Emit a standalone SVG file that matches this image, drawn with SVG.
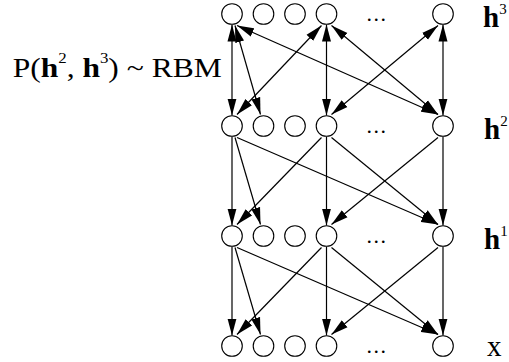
<svg xmlns="http://www.w3.org/2000/svg" width="509" height="362" viewBox="0 0 509 362">
<style>
.n{fill:#fff;stroke:#000;stroke-width:1.1}
.e{stroke:#000;stroke-width:1.2;fill:none}
.d{marker-end:url(#ah)}
.b{marker-start:url(#ah);marker-end:url(#ah)}
.t{font-family:"Liberation Serif","Times New Roman",serif;fill:#000}
.dots{font-family:"Liberation Serif",serif;font-size:22px;letter-spacing:1.5px;text-anchor:middle}
.lab{font-size:29px;font-weight:bold}
.sup{font-size:15px;font-weight:normal}
</style>
<defs>
<marker id="ah" markerUnits="userSpaceOnUse" markerWidth="17" markerHeight="10" refX="17" refY="5" orient="auto-start-reverse" viewBox="0 0 17 10">
<path d="M0,0.5 L17,5 L0,9.5 z" fill="#000"/>
</marker>
</defs>
<rect width="509" height="362" fill="#fff"/>
<g id="connectors">
<line class="e b" x1="232" y1="24.5" x2="232" y2="115.5"/>
<line class="e b" x1="235" y1="25.5" x2="260.5" y2="114.5"/>
<line class="e b" x1="237" y1="25.5" x2="438" y2="114.5"/>
<line class="e b" x1="321.5" y1="25.5" x2="237" y2="114.5"/>
<line class="e b" x1="326.5" y1="24.5" x2="326.5" y2="115.5"/>
<line class="e b" x1="331.5" y1="25.5" x2="438" y2="114.5"/>
<line class="e b" x1="438" y1="25.5" x2="331.5" y2="114.5"/>
<line class="e b" x1="443" y1="24.5" x2="443" y2="115.5"/>

<line class="e d" x1="232" y1="136.5" x2="232" y2="225.5"/>
<line class="e d" x1="235" y1="137.5" x2="260.5" y2="224.5"/>
<line class="e d" x1="237" y1="137.5" x2="438" y2="224.5"/>
<line class="e d" x1="321.5" y1="137.5" x2="237" y2="224.5"/>
<line class="e d" x1="326.5" y1="136.5" x2="326.5" y2="225.5"/>
<line class="e d" x1="331.5" y1="137.5" x2="438" y2="224.5"/>
<line class="e d" x1="438" y1="137.5" x2="331.5" y2="224.5"/>
<line class="e d" x1="443" y1="136.5" x2="443" y2="225.5"/>

<line class="e d" x1="232" y1="246.5" x2="232" y2="335.5"/>
<line class="e d" x1="235" y1="247.5" x2="260.5" y2="334.5"/>
<line class="e d" x1="237" y1="247.5" x2="438" y2="334.5"/>
<line class="e d" x1="321.5" y1="247.5" x2="237" y2="334.5"/>
<line class="e d" x1="326.5" y1="246.5" x2="326.5" y2="335.5"/>
<line class="e d" x1="331.5" y1="247.5" x2="438" y2="334.5"/>
<line class="e d" x1="438" y1="247.5" x2="331.5" y2="334.5"/>
<line class="e d" x1="443" y1="246.5" x2="443" y2="335.5"/>
</g>
<g id="h3">
<g id="h3_1"><circle class="n" cx="232" cy="14" r="10.3"/></g>
<g id="h3_2"><circle class="n" cx="263.5" cy="14" r="10.3"/></g>
<g id="h3_3"><circle class="n" cx="295" cy="14" r="10.3"/></g>
<g id="h3_4"><circle class="n" cx="326.5" cy="14" r="10.3"/></g>
<g id="h3_5"><circle class="n" cx="443" cy="14" r="10.3"/></g>
<text class="t dots" x="377" y="20.5">...</text>
<text class="t lab" x="483" y="26.5">h<tspan class="sup" dy="-13">3</tspan></text>
</g>
<g id="h2">
<g id="h2_1"><circle class="n" cx="232" cy="126" r="10.3"/></g>
<g id="h2_2"><circle class="n" cx="263.5" cy="126" r="10.3"/></g>
<g id="h2_3"><circle class="n" cx="295" cy="126" r="10.3"/></g>
<g id="h2_4"><circle class="n" cx="326.5" cy="126" r="10.3"/></g>
<g id="h2_5"><circle class="n" cx="443" cy="126" r="10.3"/></g>
<text class="t dots" x="377" y="132.5">...</text>
<text class="t lab" x="484" y="138.5">h<tspan class="sup" dy="-13">2</tspan></text>
</g>
<g id="h1">
<g id="h1_1"><circle class="n" cx="232" cy="236" r="10.3"/></g>
<g id="h1_2"><circle class="n" cx="263.5" cy="236" r="10.3"/></g>
<g id="h1_3"><circle class="n" cx="295" cy="236" r="10.3"/></g>
<g id="h1_4"><circle class="n" cx="326.5" cy="236" r="10.3"/></g>
<g id="h1_5"><circle class="n" cx="443" cy="236" r="10.3"/></g>
<text class="t dots" x="377" y="242.5">...</text>
<text class="t lab" x="484" y="248.5">h<tspan class="sup" dy="-13">1</tspan></text>
</g>
<g id="x">
<g id="x_1"><circle class="n" cx="232" cy="346" r="10.3"/></g>
<g id="x_2"><circle class="n" cx="263.5" cy="346" r="10.3"/></g>
<g id="x_3"><circle class="n" cx="295" cy="346" r="10.3"/></g>
<g id="x_4"><circle class="n" cx="326.5" cy="346" r="10.3"/></g>
<g id="x_5"><circle class="n" cx="443" cy="346" r="10.3"/></g>
<text class="t dots" x="377" y="352.5">...</text>
<text class="t" x="487" y="355.5" font-size="29">x</text>
</g>
<g id="rbm_label">
<text class="t" x="12.7" y="76.7" font-size="28" textLength="209" lengthAdjust="spacingAndGlyphs">P(<tspan font-weight="bold">h</tspan><tspan font-size="15" dy="-14">2</tspan><tspan dy="14">, </tspan><tspan font-weight="bold">h</tspan><tspan font-size="15" dy="-14">3</tspan><tspan dy="14">) ~ RBM</tspan></text>
</g>
</svg>
